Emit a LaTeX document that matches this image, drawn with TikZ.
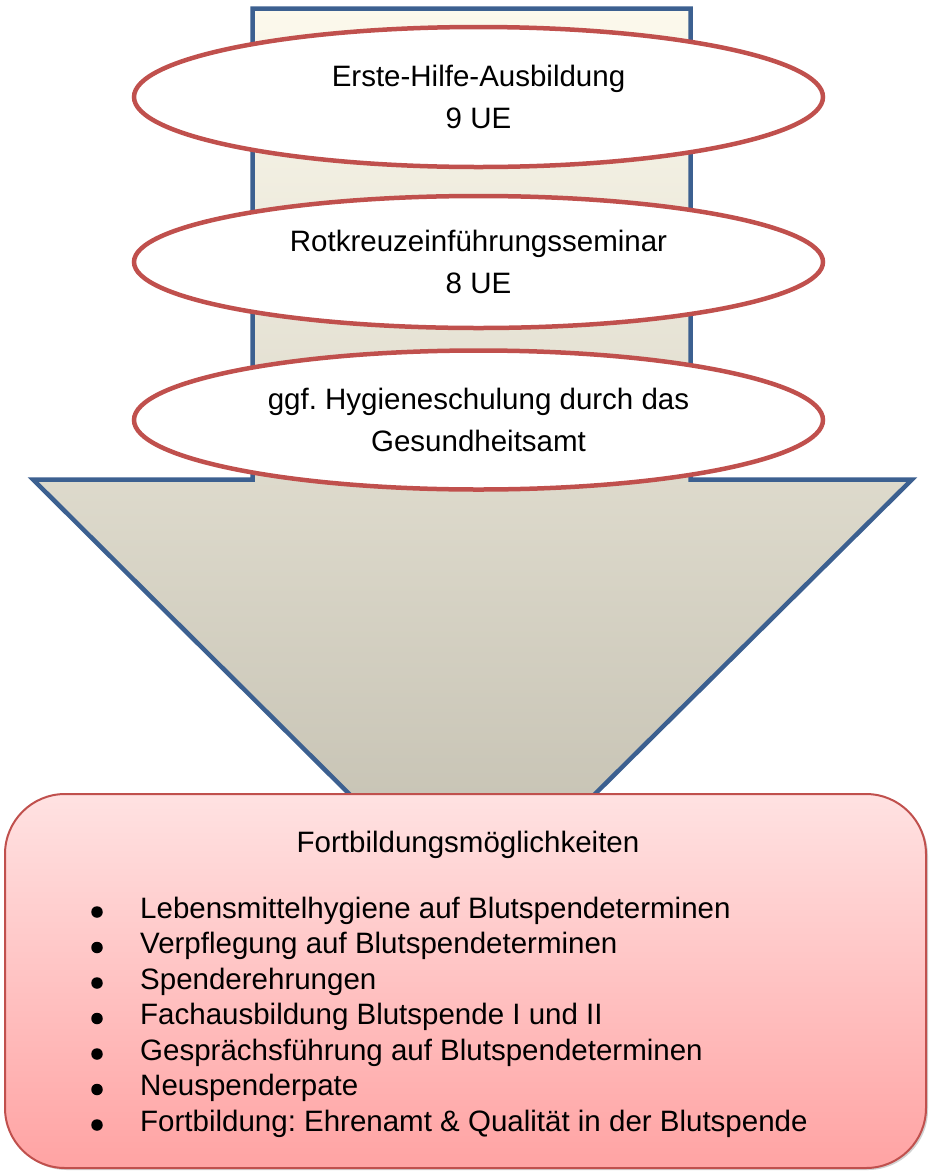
\documentclass[tikz,border=0pt]{standalone}
\usepackage{fontspec}
\setmainfont{Liberation Sans}
\usetikzlibrary{shapes.geometric,shadows}

\definecolor{arrowblue}{HTML}{3C6090}
\definecolor{ringred}{HTML}{C0504D}
\definecolor{creamtop}{HTML}{FCF9EC}
\definecolor{creambot}{HTML}{C1BDAE}
\definecolor{pinktop}{HTML}{FFE2E2}
\definecolor{pinkbot}{HTML}{FFA3A3}

\tikzset{
    arrowbody/.style={draw=arrowblue, line width=4.5pt, line join=miter,
        top color=creamtop, bottom color=creambot},
    course/.style={ellipse, draw=ringred, line width=4.5pt, fill=white,
        inner sep=0pt, minimum width=689pt, align=center,
        font=\fontsize{29.5}{42}\selectfont},
    fortbox/.style={draw=ringred, line width=2pt, rounded corners=60pt,
        top color=pinktop, bottom color=pinkbot,
        minimum width=921pt, minimum height=374pt, inner sep=0pt,
        drop shadow={shadow xshift=2pt, shadow yshift=-2pt, opacity=.3, fill=black!60}},
    listtext/.style={anchor=base west, inner sep=0pt, font=\fontsize{29.5}{35.5}\selectfont},
    listdot/.style={circle, fill=black, inner sep=0pt, minimum size=11.5pt}
}

\begin{document}
\frenchspacing
\begin{tikzpicture}[x=1pt, y=-1pt]

\useasboundingbox (0,0) rectangle (930,1171);

\def\cx{478.5}
\def\lskip{35.5}

% Pfeil
\path[arrowbody] (252.5,8.5) -- (690.5,8.5) -- (690.5,479.5) -- (912,479.5)
    -- (472,916) -- (33,479.5) -- (252.5,479.5) -- cycle;

\node[course, minimum height=140pt] (erstehilfe) at (\cx,97) {Erste-Hilfe-Ausbildung\\9 UE};
\node[course, minimum height=132pt] (rkseminar) at (\cx,262) {Rotkreuzeinführungsseminar\\8 UE};
\node[course, minimum height=139pt] (hygiene) at (\cx,420) {ggf. Hygieneschulung durch das\\Gesundheitsamt};

\node[fortbox] (fortbildung) at (465.5,981) {};
\node[anchor=base, inner sep=0pt, font=\fontsize{29.5}{35.5}\selectfont] (fortkopf)
    at (468,852) {Fortbildungsmöglichkeiten};

\foreach \thema [count=\i] in {
    Lebensmittelhygiene auf Blutspendeterminen,
    Verpflegung auf Blutspendeterminen,
    Spenderehrungen,
    Fachausbildung Blutspende I und II,
    Gesprächsführung auf Blutspendeterminen,
    Neuspenderpate,
    Fortbildung: Ehrenamt \& Qualität in der Blutspende}
{
    \node[listdot] (punkt\i) at (97,{912+\lskip*(\i-1)}) {};
    \node[listtext] (thema\i) at (140,{918+\lskip*(\i-1)}) {\thema};
}

\end{tikzpicture}
\end{document}
